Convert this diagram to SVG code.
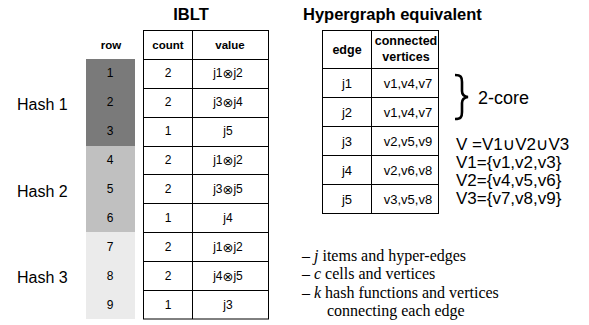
<svg xmlns="http://www.w3.org/2000/svg" width="589" height="325" viewBox="0 0 589 325">
<style>
.t{font-family:"Liberation Sans",Arial,sans-serif;fill:#000}
.c{font-size:12px;text-anchor:middle;dominant-baseline:central}
.c2{font-size:13px;text-anchor:middle;dominant-baseline:central}
.h{font-size:11.5px;font-weight:bold;text-anchor:middle;dominant-baseline:central}
.h2{font-size:12.5px;font-weight:bold;text-anchor:middle;dominant-baseline:central}
.ttl{font-size:16.5px;font-weight:bold}
.lab{font-size:16px;dominant-baseline:central}
.eq{font-size:17px}
.x{font-family:"DejaVu Sans",sans-serif;font-size:13px}
.u{font-family:"DejaVu Sans",sans-serif}
.s{font-family:"Liberation Serif","Times New Roman",serif;font-size:16px;fill:#000}
.ln{stroke:#000;stroke-width:1;fill:none}
</style>
<rect width="589" height="325" fill="#fff"/>

<g id="iblt">
<text class="t ttl" x="191" y="20" text-anchor="middle">IBLT</text>
<text class="t h" x="111" y="45">row</text>
<rect x="86" y="59" width="49" height="87" fill="#7a7a7a"/>
<rect x="86" y="146" width="49" height="86" fill="#c0c0c0"/>
<rect x="86" y="232" width="49" height="87" fill="#ebebeb"/>
<rect class="ln" x="143.5" y="30.5" width="125" height="288.5"/>
<line class="ln" x1="192.5" y1="30.5" x2="192.5" y2="319"/>
<g class="ln">
<line x1="143.5" y1="59.5" x2="268.5" y2="59.5"/>
<line x1="143.5" y1="88.5" x2="268.5" y2="88.5"/>
<line x1="143.5" y1="117.5" x2="268.5" y2="117.5"/>
<line x1="143.5" y1="146.5" x2="268.5" y2="146.5"/>
<line x1="143.5" y1="174.5" x2="268.5" y2="174.5"/>
<line x1="143.5" y1="203.5" x2="268.5" y2="203.5"/>
<line x1="143.5" y1="232.5" x2="268.5" y2="232.5"/>
<line x1="143.5" y1="261.5" x2="268.5" y2="261.5"/>
<line x1="143.5" y1="290.5" x2="268.5" y2="290.5"/>
</g>
<text class="t h" x="168" y="45">count</text>
<text class="t h" x="230" y="45">value</text>
<g class="t c">
<text x="110" y="73">1</text><text x="168" y="73">2</text><text x="228" y="73">j1<tspan class="x">⊗</tspan>j2</text>
<text x="110" y="102">2</text><text x="168" y="102">2</text><text x="228" y="102">j3<tspan class="x">⊗</tspan>j4</text>
<text x="110" y="131">3</text><text x="168" y="131">1</text><text x="228" y="131">j5</text>
<text x="110" y="160">4</text><text x="168" y="160">2</text><text x="228" y="160">j1<tspan class="x">⊗</tspan>j2</text>
<text x="110" y="189">5</text><text x="168" y="189">2</text><text x="228" y="189">j3<tspan class="x">⊗</tspan>j5</text>
<text x="110" y="218">6</text><text x="168" y="218">1</text><text x="228" y="218">j4</text>
<text x="110" y="247">7</text><text x="168" y="247">2</text><text x="228" y="247">j1<tspan class="x">⊗</tspan>j2</text>
<text x="110" y="276">8</text><text x="168" y="276">2</text><text x="228" y="276">j4<tspan class="x">⊗</tspan>j5</text>
<text x="110" y="305">9</text><text x="168" y="305">1</text><text x="228" y="305">j3</text>
</g>
<text class="t lab" x="17" y="104">Hash 1</text>
<text class="t lab" x="17" y="191">Hash 2</text>
<text class="t lab" x="17" y="277">Hash 3</text>
</g>

<g id="hypergraph">
<text class="t ttl" x="303" y="20">Hypergraph equivalent</text>
<rect class="ln" x="322.5" y="30.5" width="116" height="183"/>
<line class="ln" x1="371.5" y1="30.5" x2="371.5" y2="213.5"/>
<g class="ln">
<line x1="322.5" y1="68.5" x2="438.5" y2="68.5"/>
<line x1="322.5" y1="97.5" x2="438.5" y2="97.5"/>
<line x1="322.5" y1="126.5" x2="438.5" y2="126.5"/>
<line x1="322.5" y1="155.5" x2="438.5" y2="155.5"/>
<line x1="322.5" y1="184.5" x2="438.5" y2="184.5"/>
</g>
<text class="t h2" x="347" y="50">edge</text>
<text class="t h2" x="406" y="41">connected</text>
<text class="t h2" x="406" y="57">vertices</text>
<g class="t c2">
<text x="347" y="83">j1</text><text x="408" y="83">v1,v4,v7</text>
<text x="347" y="112">j2</text><text x="408" y="112">v1,v4,v7</text>
<text x="347" y="141">j3</text><text x="408" y="141">v2,v5,v9</text>
<text x="347" y="170">j4</text><text x="408" y="170">v2,v6,v8</text>
<text x="347" y="199">j5</text><text x="408" y="199">v3,v5,v8</text>
</g>
</g>

<g id="core">
<path d="M455,75 C461,75 462,77 462,82 L462,91 C462,95 464,96.5 468,97 C464,97.5 462,99 462,103 L462,112 C462,117 461,119 455,119" fill="none" stroke="#000" stroke-width="2.6"/>
<text class="t lab" x="478" y="98" style="font-size:18px">2-core</text>
</g>

<g id="sets" class="t eq">
<text x="456" y="150">V  =V1<tspan class="u">∪</tspan>V2<tspan class="u">∪</tspan>V3</text>
<text x="456" y="168">V1={v1,v2,v3}</text>
<text x="456" y="186">V2={v4,v5,v6}</text>
<text x="456" y="204">V3={v7,v8,v9}</text>
</g>

<g id="notes" class="s">
<text x="302" y="261">– <tspan font-style="italic">j</tspan> items and hyper-edges</text>
<text x="302" y="279">– <tspan font-style="italic">c</tspan> cells and vertices</text>
<text x="302" y="298">– <tspan font-style="italic">k</tspan> hash functions and vertices</text>
<text x="327" y="316">connecting each edge</text>
</g>
</svg>
